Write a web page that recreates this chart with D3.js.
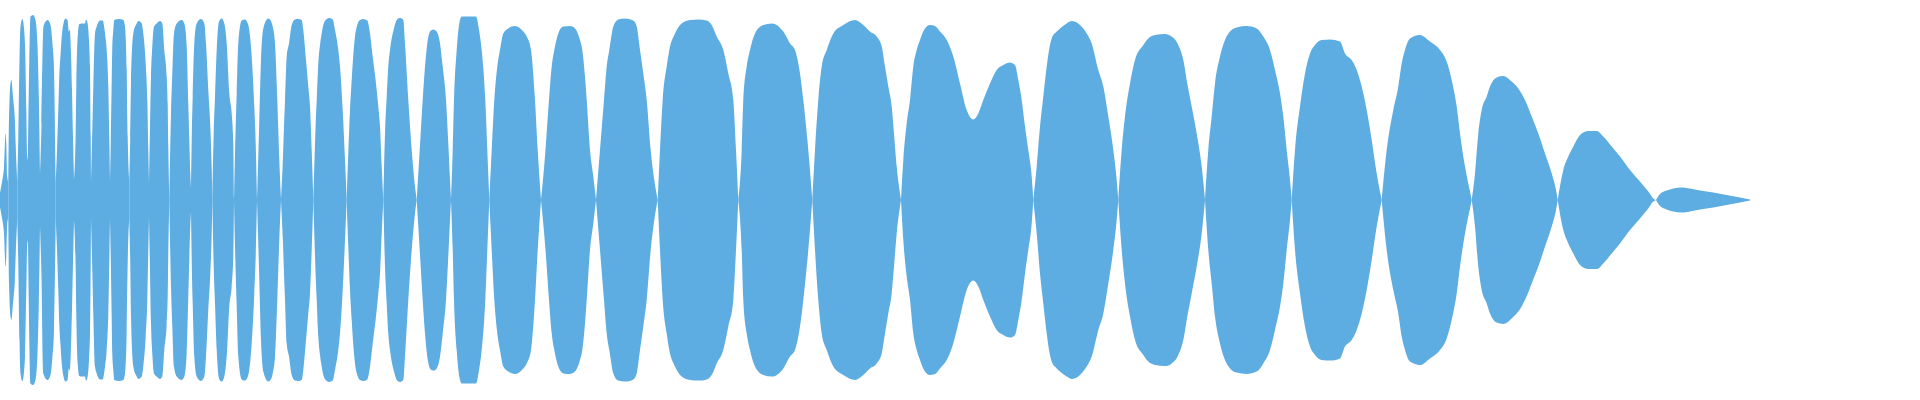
<!DOCTYPE html>
<html>
<head>
<meta charset="utf-8">
<script src="https://cdn.jsdelivr.net/npm/d3@7"></script>
<style>
	body{margin:0;background:#fff;}
	svg{display:block;}
	.lobe{fill:#5dade2;stroke:none;}
</style>
</head>
<body>
<div id="plot"></div>
<script>
var W = 1920, H = 400;

//points where the waveform envelope pinches, and the envelope there
var crossX = [0, 8.3, 17.3, 28, 40, 55.7, 74, 91, 110, 129.3, 149, 169.3, 191, 212.3, 234, 257, 281, 313.3,
	346.7, 383.3, 416.7, 451, 489.3, 541, 596, 657.7, 738.3, 812.3, 901, 1033.3, 1118.3, 1205, 1291.7,
	1381.7, 1471.7, 1557.7, 1656, 1750];
var crossAmp = [0.035, 0.09, 0.09, 0.2, 0.13, 0.09, 0.1, 0.09, 0.09, 0.09, 0.085, 0, 0.06, 0, 0, 0, 0, 0,
	0, 0, 0, 0, 0, 0, 0, 0, 0, 0, 0, 0, 0, 0, 0,
	0, 0, 0, 0, 0.003];

//envelope samples [position, amplitude] between the pinch points
var envEarly = [
	[2,.09],[3,.12],[4,.165],[4.8,.27],[5.5,.333],[6.3,.283],[7.2,.12],
	[9,.41],[10.5,.583],[11.5,.6],[12.7,.533],[13.8,.475],[14.8,.41],[15.7,.275],
	[18.3,.32],[19.5,.7],[20.5,.867],[22.3,.905],[24,.86],[25,.78],[26.3,.45],[27.2,.225],
	[29.3,.7],[30.5,.917],[33,.925],[35.5,.9],[37.5,.77],[38.8,.52],
	[41.5,.38],[43.5,.87],[47.5,.9],[50.5,.875],[52.5,.78],[54,.65],
	[57,.25],[58.3,.45],[59.3,.617],[60.5,.725],[62,.833],[63.5,.883],[65.5,.908],[67.5,.9],[68.8,.842],[69.8,.853],[71,.733],[72,.55],[73,.317],
	[75.7,.35],[76.3,.567],[77.7,.817],[79.3,.88],[81.7,.883],[85,.883],[86,.903],[87.3,.89],[89,.8],[90,.667],[90.7,.317],
	[92.3,.35],[93.3,.567],[95,.833],[96.7,.867],[100,.897],[102.7,.897],[105,.833],[106.7,.75],[108.3,.567],[109.3,.3],
	[110.8,.3],[111.7,.592],[112.3,.767],[113.3,.85],[114.3,.9],[119,.905],[123.3,.9],[125,.867],[126.7,.65],[127.7,.317],
	[130.2,.3],[131,.583],[133.3,.833],[136.7,.883],[138.3,.895],[141.7,.883],[143.3,.833],[145.7,.683],[147.3,.5],[148.3,.25],
	[150,.36],[151,.617],[152.3,.767],[154,.867],[156.7,.883],[160,.895],[162.3,.883],[164.3,.75],[166.7,.617],[167.7,.483],[168.3,.267],
	[170,.2],[171,.433],[172.3,.633],[174,.833],[176.7,.883],[181.7,.9],[184.3,.883],[186.7,.767],[188.3,.483],[189.3,.3],[190.3,.133],
	[191.7,.3],[192.7,.517],[194.3,.783],[196.7,.883],[201,.905],[204.3,.883],[206,.783],[208.3,.55],[210.3,.367],[211.7,.167],
	[213.7,.333],[215,.517],[216.7,.75],[219,.892],[221.7,.908],[224.3,.883],[226.7,.783],[229.3,.533],[231.7,.433],[233.3,.283],
	[235,.233],[236.7,.533],[238.3,.783],[241.7,.897],[245,.903],[248.3,.875],[251.7,.717],[254.3,.467],[255.7,.283],
	[258.3,.217],[259.3,.4],[261,.7],[263.3,.858],[268.3,.908],[270,.903],[272.7,.867],[275,.783],[277.3,.5],[279.3,.2],
	[282.7,.183],[284,.367],[285,.5],[286.7,.717],[289,.783],[291.7,.875],[295,.903],[298.3,.905],[301.7,.9],[303.3,.85],[306,.7],[308.3,.567],[310,.467],[311.7,.25],[312.7,.1],
	[314,.117],[315.7,.383],[316.7,.5],[318.3,.683],[320,.775],[321.7,.833],[323.3,.875],[326.7,.905],[329.3,.91],[332.7,.903],[335,.85],[338.3,.75],[340,.667],[342.7,.45],[345,.2],
	[347.3,.1],[348.3,.233],[350,.45],[351.7,.6],[353.3,.725],[355,.817],[357.3,.875],[360,.9],[363.3,.905],[367.3,.897],[370,.833],[372.7,.717],[376,.583],[378.3,.467],[380,.367],[381.7,.167],
	[384,.15],[385,.333],[386.7,.517],[388.3,.667],[390,.75],[391.7,.808],[394,.858],[396.7,.9],[400,.91],[403.3,.9],[405,.783],[408.3,.5],[411.7,.25],[415,.067]
];
var envMid = [
	[418.3,.133],[420.7,.333],[422.7,.5],[425,.667],[427.3,.783],[430,.842],[433.3,.853],[436.7,.842],[440,.783],[442.7,.667],[446,.5],[448.3,.283],[450,.1],
	[452.7,.25],[454,.5],[456.7,.75],[459.3,.883],[461.7,.917],[476,.917],[479,.85],[481.7,.75],[485.3,.5],[487.3,.25],
	[491.7,.25],[494.3,.5],[497.3,.667],[500,.75],[503.3,.833],[508.3,.858],[515,.87],[523.3,.842],[526.7,.817],[531,.75],[535,.5],[537.7,.25],
	[545.5,.25],[549,.5],[551.7,.667],[554.3,.75],[558.3,.833],[563.3,.867],[570,.87],[575,.858],[580,.8],[582.3,.75],[585,.617],[586.7,.5],[590,.25],[593.3,.117],
	[600,.25],[604,.5],[606.7,.667],[609.3,.75],[613.3,.867],[618.3,.903],[625,.908],[633.3,.897],[636.7,.867],[640,.75],[643.3,.633],[646.7,.5],[650.7,.25],[654.3,.1],
	[660,.25],[662.7,.5],[666.7,.667],[669.3,.75],[675,.833],[681.7,.883],[690,.9],[698.3,.903],[706.7,.897],[711.7,.875],[716.7,.817],[723.3,.75],[728.3,.633],[733.3,.5],[736,.25],
	[741.7,.25],[743.3,.5],[746.7,.667],[750,.75],[755,.833],[763.3,.875],[771.7,.883],[783.3,.842],[790,.783],[795,.75],[800,.633],[803.3,.5],[808.3,.25],
	[815,.25],[818.3,.5],[821.7,.667],[826.7,.75],[833.3,.833],[843.3,.875],[855,.9],[863.3,.875],[870,.842],[876.7,.817],[881.7,.767],[885,.667],[888.3,.567],[891.7,.467],[894,.333],[896.7,.167],[900,.033],
	[903.3,.2],[906.7,.383],[910,.5],[913.3,.667],[916.7,.75],[920,.8],[924,.85],[930,.875],[935,.87],[940,.842],[946.7,.8],[953.3,.717],[960,.583],[966.7,.45],[973.3,.403],[978.3,.433],[983.3,.5],[990,.583],[996.7,.65],[1003.3,.675],[1010,.688],[1015,.675],[1018.3,.6],[1021.7,.5],[1025,.367],[1028.3,.25],[1031.7,.117]
];
var envLate = [
	[1036.7,.167],[1040,.367],[1043.3,.517],[1046.7,.667],[1049.3,.758],[1051.7,.808],[1056.7,.842],[1060,.858],[1066.7,.883],[1071.7,.895],[1080,.875],[1086.7,.833],[1091.7,.783],[1098.3,.65],[1103.3,.567],[1108.3,.417],[1113.3,.25],[1116.7,.1],
	[1121.7,.25],[1125,.417],[1130,.583],[1135,.7],[1143.3,.775],[1148.3,.808],[1155,.825],[1165,.83],[1171.7,.817],[1178.3,.775],[1183.3,.7],[1187.3,.583],[1191.7,.467],[1196.7,.333],[1201.7,.167],
	[1208.3,.25],[1211.7,.417],[1215,.583],[1220,.717],[1225,.8],[1230,.842],[1236.7,.863],[1246.7,.87],[1256.7,.858],[1263.3,.817],[1270,.75],[1275,.65],[1280,.533],[1283.3,.417],[1286.7,.25],[1290,.1],
	[1295,.25],[1300,.467],[1305,.633],[1310,.733],[1315,.775],[1321.7,.8],[1330,.803],[1340,.792],[1345,.733],[1351.7,.7],[1356.7,.65],[1361.7,.567],[1366.7,.45],[1371.7,.3],[1376.7,.133],
	[1386.7,.25],[1393.3,.45],[1398.3,.567],[1401.7,.683],[1405,.75],[1410,.808],[1420,.825],[1430,.792],[1440,.75],[1446.7,.692],[1451.7,.6],[1456.7,.467],[1460,.333],[1465,.167],[1470,.042],
	[1475,.133],[1478.3,.333],[1481.7,.45],[1486.7,.517],[1490,.567],[1496.7,.613],[1503.3,.62],[1511.7,.592],[1518.3,.558],[1525,.5],[1531.7,.417],[1538.3,.333],[1545,.233],[1551.7,.133],[1556,.05],
	[1563.3,.15],[1568.3,.217],[1573.3,.267],[1580,.325],[1588.3,.345],[1596.7,.345],[1603.3,.317],[1611.7,.267],[1620,.217],[1630,.15],[1640,.092],[1648.3,.042],[1653.3,.008],
	[1660,.03],[1666.7,.047],[1673.3,.058],[1681.7,.063],[1690,.057],[1700,.047],[1713.3,.037],[1726.7,.025],[1740,.012]
];

var svg = d3.select('#plot')
	.append('svg')
	.attr('width', W)
	.attr('height', H);

var scaleX = d3.scaleLinear().domain([0, 1920]).range([0, W]),
	scaleY = d3.scaleLinear().domain([-1, 1]).range([H, 0]);

//split the envelope into lobes between pinch points
var points = envEarly.concat(envMid, envLate);
var pinches = crossX.map(function(t, i){ return [t, crossAmp[i]]; });
var lobes = d3.pairs(pinches).map(function(p){
	var inner = points.filter(function(d){ return d[0] > p[0][0] && d[0] < p[1][0]; });
	return [p[0]].concat(inner, [p[1]]);
});

//mirrored area around the zero line
var area = d3.area()
	.x(function(d){ return scaleX(d[0]); })
	.y0(function(d){ return scaleY(-d[1]); })
	.y1(function(d){ return scaleY(d[1]); })
	.curve(d3.curveMonotoneX);

svg.selectAll('.lobe')
	.data(lobes)
	.join('path')
	.attr('class', 'lobe')
	.attr('d', area);
</script>
</body>
</html>
